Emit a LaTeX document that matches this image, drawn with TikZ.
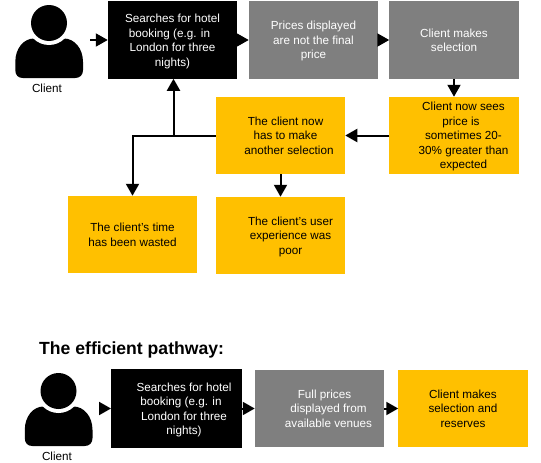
\documentclass[tikz,border=0pt]{standalone}
\usepackage{fontspec}
\setmainfont{Liberation Sans}
\usetikzlibrary{arrows.meta}
\definecolor{bargrey}{HTML}{7F7F7F}
\definecolor{barorange}{HTML}{FFC000}
\newcommand\tb[2]{\hspace*{#1}\raisebox{-1.5pt}[\height][\depth]{\begin{tabular}{@{}c@{}}#2\end{tabular}}}
\newcommand\personicon{%
  \fill[black] (23,78) .. controls (18,78) and (15.3,75) .. (15.3,70) -- (15.3,62)
    .. controls (15.3,48) and (24,38.5) .. (34,38.5) -- (64,38.5)
    .. controls (74,38.5) and (83,48) .. (83,62) -- (83,70)
    .. controls (83,75) and (80,78) .. (75,78) -- cycle;
  \fill[white] (49,23) circle[radius=22];
  \fill[black] (49,23) circle[radius=18];
}
\tikzset{
  flow/.style={inner sep=0pt,outer sep=0pt,minimum width=129.5pt,minimum height=77.5pt,
    font=\fontsize{11.7}{14.5}\selectfont},
  blackbox/.style={flow,fill=black,text=white},
  greybox/.style={flow,fill=bargrey,text=white},
  orangebox/.style={flow,fill=barorange,text=black},
  arr/.style={line width=2pt,draw=black,-{Triangle[length=12pt,width=13pt]}},
  caption/.style={font=\fontsize{11.7}{14}\selectfont,inner sep=0pt},
}
\begin{document}
\begin{tikzpicture}[x=1pt,y=-1pt]
\useasboundingbox (0,0) rectangle (541,463);
\personicon
\begin{scope}[shift={(9.5,368)}]
\personicon
\end{scope}
\node[caption] (client1) at (47,88) {Client};
\node[caption] (client2) at (57,456) {Client};
\coordinate (p1) at (90,40);
\coordinate (p2) at (99,408.5);
\node[blackbox] (b1) at (172.5,40) {\tb{0pt}{Searches for hotel\\\hspace*{-6pt}booking (e.g. in\\London for three\\nights)}};
\node[greybox] (g1) at (313.5,40) {\tb{0pt}{Prices displayed\\are not the final\\price}};
\node[greybox] (g2) at (454,40) {\tb{0pt}{Client makes\\selection}};
\node[orangebox] (or) at (454,135.5) {\tb{19pt}{Client now sees\\\hspace*{-5pt}price is\\sometimes 20-\\30\% greater than\\expected}};
\node[orangebox] (om) at (280.5,135.5) {\tb{10pt}{The client now\\has to make\\\hspace*{7pt}another selection}};
\node[orangebox] (tw) at (132.5,234.5) {\tb{0pt}{The client's time\\has been wasted}};
\node[orangebox] (up) at (280.5,235.5) {\tb{20pt}{The client's user\\experience was\\poor}};
\node[anchor=west,inner sep=0pt,font=\fontsize{17.6}{20}\selectfont\bfseries] (title) at (39,349.5) {The efficient pathway:};
\node[blackbox,minimum width=131pt,minimum height=79pt] (b2) at (176.5,408.5) {\tb{15pt}{Searches for hotel\\\hspace*{-6pt}booking (e.g. in\\London for three\\nights)}};
\node[greybox] (g3) at (319.5,408.5) {\tb{18pt}{\hspace*{-8pt}Full prices\\displayed from\\available venues}};
\node[orangebox] (o3) at (463,408.5) {\tb{0pt}{Client makes\\selection and\\reserves}};
\coordinate (j) at (173.5,136);
\draw[arr] (p1) -- (b1.west);
\draw[arr] (b1.east) -- (g1.west);
\draw[arr] (g1.east) -- (g2.west);
\draw[arr] (g2.south) -- (or.north);
\draw[arr] (or.west) -- (om.east);
\draw[arr] (om.south) -- (up.north);
\draw[arr] (om.west) -| (tw.north);
\draw[arr] (j) -- (j |- b1.south);
\draw[arr] (p2) -- (b2.west);
\draw[arr] (b2.east) -- (g3.west);
\draw[arr] (g3.east) -- (o3.west);
\end{tikzpicture}
\end{document}
